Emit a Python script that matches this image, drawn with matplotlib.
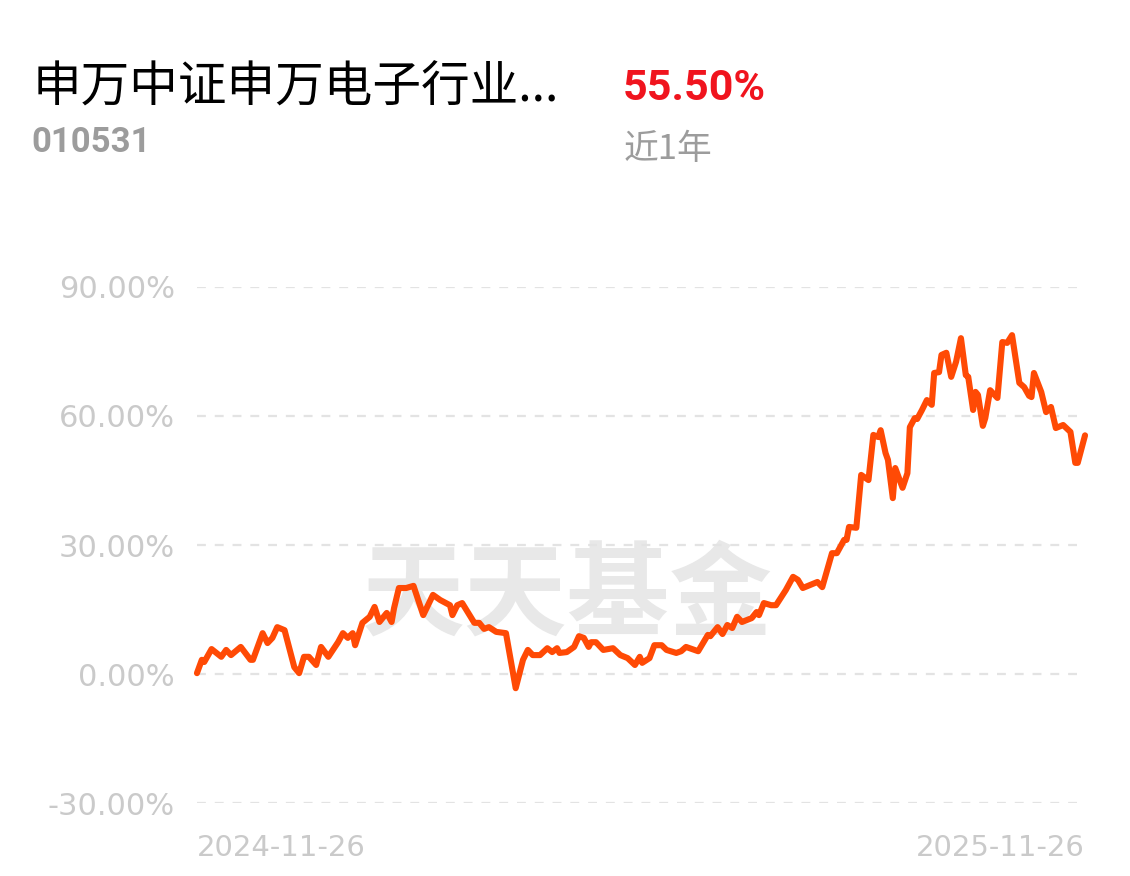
import datetime as dt
import matplotlib
matplotlib.use("Agg")
import matplotlib.pyplot as plt
import matplotlib.dates as mdates
from matplotlib.ticker import FuncFormatter

# fund info
fund_name = "申万中证申万电子行业..."
fund_code = "010531"
period_return = "55.50%"
period_label = "近1年"
watermark = "天天基金"

start_date = dt.date(2024, 11, 26)
end_date = dt.date(2025, 11, 26)

# day offsets from start date and cumulative return (%)
day_offsets = [
    0, 2, 3, 6, 10, 12, 14, 18, 22, 23, 27, 29, 31, 33, 36, 40, 42, 44, 46, 49,
    51, 54, 58, 60, 62, 64, 65, 68, 71, 73, 75, 78, 80, 81, 83, 86, 89, 93, 97, 100,
    104, 105, 107, 109, 114, 116, 118, 120, 123, 127, 131, 134, 136, 138, 141, 144, 146, 148, 149, 152,
    155, 157, 159, 161, 162, 164, 167, 171, 174, 177, 180, 182, 183, 186, 188, 191, 193, 197, 199, 201,
    206, 210, 211, 214, 216, 218, 220, 222, 224, 228, 230, 231, 233, 236, 238, 242, 245, 247, 249, 255,
    257, 261, 263, 266, 267, 268, 271, 273, 276, 278, 280, 281, 283, 284, 286, 287, 290, 292, 293, 295,
    296, 298, 300, 302, 303, 305, 306, 308, 310, 312, 314, 316, 317, 319, 320, 321, 323, 324, 326, 329,
    331, 333, 335, 338, 340, 342, 343, 344, 347, 349, 351, 353, 356, 359, 361, 362, 365,
]
returns = [
    0.2, 3.3, 2.8, 5.8, 4.0, 5.6, 4.4, 6.3, 3.3, 3.3, 9.5, 7.2, 8.4, 10.9, 10.2, 1.6, 0.2, 4.0, 4.0, 2.1,
    6.3, 4.0, 7.4, 9.5, 8.4, 9.5, 6.7, 11.9, 13.3, 15.6, 12.1, 14.2, 12.1, 15.3, 20.0, 20.0, 20.5, 13.7, 18.4, 17.2,
    16.0, 13.7, 16.0, 16.5, 11.9, 11.9, 10.5, 10.9, 9.8, 9.5, -3.3, 3.3, 5.6, 4.4, 4.4, 6.0, 5.1, 6.0, 4.9, 5.1,
    6.3, 8.8, 8.4, 6.3, 7.4, 7.4, 5.6, 6.0, 4.4, 3.7, 2.1, 4.0, 2.6, 3.7, 6.7, 6.7, 5.6, 4.9, 5.3, 6.3,
    5.3, 9.1, 8.8, 10.9, 9.3, 11.4, 10.7, 13.3, 12.1, 13.0, 14.4, 13.7, 16.5, 16.0, 16.0, 19.5, 22.6, 21.9, 20.0, 21.4,
    20.2, 28.1, 28.1, 31.2, 31.2, 34.2, 34.0, 46.3, 45.1, 55.6, 55.1, 56.7, 51.4, 49.8, 40.9, 47.9, 43.3, 46.7, 57.4, 59.5,
    59.3, 61.4, 63.7, 62.6, 70.0, 70.2, 74.2, 74.7, 69.1, 72.6, 78.1, 69.5, 69.1, 61.4, 65.6, 64.9, 57.7, 59.5, 66.0, 64.2,
    77.2, 77.0, 78.8, 67.7, 66.7, 64.7, 64.4, 70.0, 65.6, 60.9, 62.1, 57.2, 57.9, 56.3, 49.1, 49.1, 55.5,
]
y_ticks = [-30, 0, 30, 60, 90]

dates = [start_date + dt.timedelta(days=d) for d in day_offsets]

cjk = ["Noto Sans CJK SC", "DejaVu Sans"]

fig = plt.figure(figsize=(11.3, 8.76), dpi=100)
ax = fig.add_axes([0.1743, 0.0833, 0.7859, 0.5891])

# watermark sits under the line
ax.text(0.502, 0.318, watermark, transform=fig.transFigure, fontsize=74,
        fontweight="bold", color="#e8e8e8", family=cjk, ha="center", va="center", zorder=1)

ax.plot(dates, returns, color="#ff4a05", lw=4.4, solid_joinstyle="round",
        solid_capstyle="round", clip_on=False, zorder=3)

ax.set_ylim(-30, 90)
ax.set_xlim(start_date, end_date)
ax.set_yticks(y_ticks)
ax.yaxis.set_major_formatter(FuncFormatter(lambda v, p: f"{v:.2f}%"))
ax.tick_params(axis="y", length=0, pad=16, labelsize=22, labelcolor="#cacaca")
ax.grid(axis="y", color="#e3e3e3", lw=1.6, ls=(0, (4, 4)), zorder=2)
ax.set_axisbelow(False)
ax.set_xticks([start_date, end_date])
ax.xaxis.set_major_formatter(mdates.DateFormatter("%Y-%m-%d"))
ax.tick_params(axis="x", length=0, pad=22, labelsize=21, labelcolor="#cacaca")
xl = ax.get_xticklabels()
xl[0].set_ha("left")
xl[1].set_ha("right")
for s in ax.spines.values():
    s.set_visible(False)

# header
fig.text(33 / 1130, 1 - 88 / 876, fund_name, fontsize=35, color="black", family=cjk,
         ha="left", va="center")
fig.text(623 / 1130, 1 - 88 / 876, period_return, fontsize=31, color="#f0141e",
         family="Roboto", fontweight="bold", ha="left", va="center")
fig.text(31 / 1130, 1 - 143 / 876, fund_code, fontsize=25, color="#9c9c9c",
         family="Roboto", fontweight="bold", ha="left", va="center")
fig.text(624 / 1130, 1 - 149 / 876, period_label, fontsize=25, color="#9c9c9c",
         family=cjk, ha="left", va="center")

fig.savefig("out.png", dpi=100, facecolor="white")
